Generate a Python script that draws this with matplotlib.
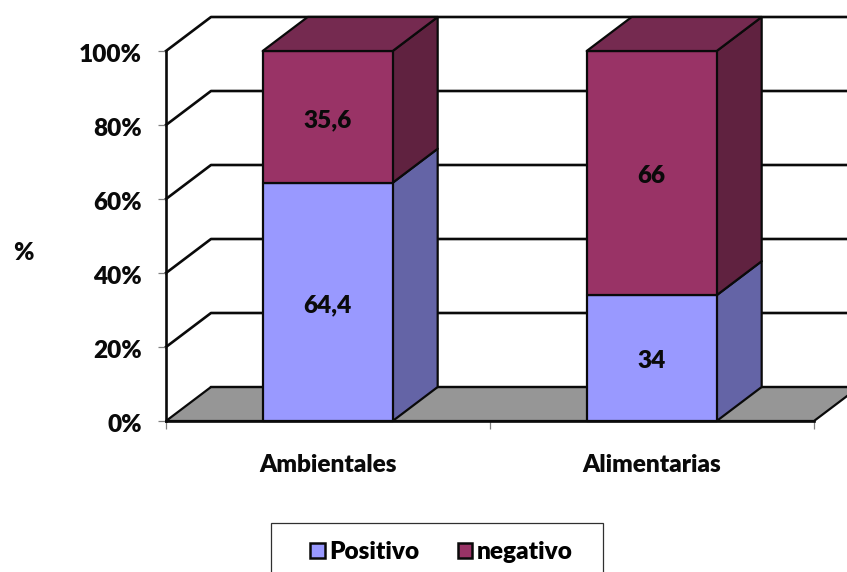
import matplotlib
matplotlib.use("Agg")
import matplotlib.pyplot as plt
from matplotlib.patches import Polygon, Patch, Rectangle
from matplotlib.transforms import ScaledTranslation

categories = ["Ambientales", "Alimentarias"]
positivo = [64.4, 34]
negativo = [35.6, 66]
positivo_labels = ["64,4", "34"]
negativo_labels = ["35,6", "66"]
yticks = [0, 20, 40, 60, 80, 100]

W, H = 847, 572
FRONT = {"Positivo": "#9999FF", "negativo": "#993366"}
SIDE = {"Positivo": "#6464A6", "negativo": "#602240"}
TOP = "#752A50"
FLOOR = "#969696"
LINE = "#0A0A0A"
LW = 1.6
FONT = "Lato"
FS = 17.6
WEIGHT = "heavy"

plt.rcParams["font.family"] = [FONT, "DejaVu Sans"]
plt.rcParams["font.weight"] = WEIGHT

fig = plt.figure(figsize=(W / 100, H / 100), dpi=100)
L, R, B, T = 166, 814, 421, 51
ax = fig.add_axes([L / W, 1 - B / H, (R - L) / W, (B - T) / H])
ax.set_xlim(0, 2)
ax.set_ylim(0, 100)
ax.patch.set_visible(False)

# depth of the pseudo-3D box, in data units
dx = 45 / ((R - L) / 2)
dy = 34 / ((B - T) / 100)
bar_w = 130 / ((R - L) / 2)
far = 2.3


def face(pts, fc, z, lw=LW):
    ax.add_patch(Polygon(pts, closed=True, facecolor=fc, edgecolor=LINE, lw=lw,
                         joinstyle="round", clip_on=False, zorder=z))


# floor
face([(0, 0), (2, 0), (2 + dx, dy), (dx, dy)], FLOOR, 1)

# walls
for v in yticks[1:]:
    ax.plot([0, dx, far], [v, v + dy, v + dy], color=LINE, lw=LW + 0.3,
            clip_on=False, zorder=1.5, solid_joinstyle="round")
ax.plot([dx, far], [dy, dy], color=LINE, lw=LW, clip_on=False, zorder=1.5)

# bars
for i in range(len(categories)):
    x0 = i + 0.5 - bar_w / 2 - 0.001
    x1 = x0 + bar_w
    base = 0
    for name, val, lab in (("Positivo", positivo[i], positivo_labels[i]),
                           ("negativo", negativo[i], negativo_labels[i])):
        top = base + val
        face([(x1, base), (x1 + dx, base + dy), (x1 + dx, top + dy), (x1, top)],
             SIDE[name], 3)
        face([(x0, base), (x1, base), (x1, top), (x0, top)], FRONT[name], 4)
        ax.text((x0 + x1) / 2, (base + top) / 2 - 0.8, lab, ha="center", va="center",
                fontsize=FS, fontweight=WEIGHT, color="#0A0A0A", zorder=6)
        base = top
    face([(x0, base), (x1, base), (x1 + dx, base + dy), (x0 + dx, base + dy)], TOP, 5)

# axes
for s in ("top", "right"):
    ax.spines[s].set_visible(False)
for s in ("left", "bottom"):
    ax.spines[s].set_linewidth(LW + 0.3)
    ax.spines[s].set_color(LINE)
    ax.spines[s].set_zorder(7)
ax.set_yticks(yticks)
ax.set_yticklabels([f"{v}%" for v in yticks], fontsize=FS, fontweight=WEIGHT, color="#0A0A0A")
ax.set_xticks([0, 1, 2])
ax.set_xticklabels([])
ax.set_xticks([0.5, 1.5], minor=True)
ax.set_xticklabels(categories, minor=True, fontsize=FS, fontweight=WEIGHT, color="#0A0A0A")
ax.tick_params(axis="y", length=6, width=0.9, color="#808080", pad=12)
ax.tick_params(axis="x", which="major", length=6, width=0.9, color="#808080")
ax.tick_params(axis="x", which="minor", length=0, pad=23.5)
shift = ScaledTranslation(1 / 100, -2 / 100, fig.dpi_scale_trans)
for lbl in ax.get_yticklabels():
    lbl.set_transform(lbl.get_transform() + shift)
ax.set_ylabel("%", fontsize=FS, fontweight=WEIGHT, rotation=0, color="#0A0A0A")
ax.yaxis.set_label_coords((23 - L) / (R - L), (B - 253) / (B - T))
ax.yaxis.label.set_va("center")
ax.yaxis.label.set_ha("center")

# legend box, running past the lower edge as in the reference
fig.add_artist(Rectangle((271 / W, -0.05), (603 - 271) / W, 0.05 + 1 - 523 / H,
                         transform=fig.transFigure, facecolor="white",
                         edgecolor="#303030", lw=0.9))
handles = [Patch(facecolor=FRONT[k], edgecolor=LINE, lw=1.8, label=k) for k in FRONT]
fig.legend(handles=handles, ncol=2, frameon=False, loc="center",
           bbox_to_anchor=(441.5 / W, 1 - 552 / H), fontsize=FS,
           handlelength=0.6, handleheight=0.6, handletextpad=0.2,
           columnspacing=1.55, borderpad=0, borderaxespad=0)

fig.savefig("out.png", dpi=100)
